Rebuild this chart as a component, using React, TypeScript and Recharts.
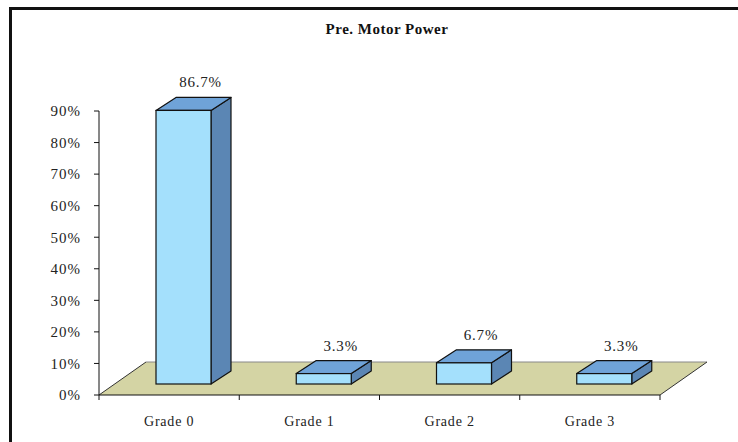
import React from "react";
import { BarChart, Bar, XAxis, YAxis, ReferenceArea, LabelList } from "recharts";

const categories = ["Grade 0", "Grade 1", "Grade 2", "Grade 3"];
const values = [86.7, 3.3, 6.7, 3.3];
const valueLabels = ["86.7%", "3.3%", "6.7%", "3.3%"];
const yTicks = [0, 10, 20, 30, 40, 50, 60, 70, 80, 90];
const title = "Pre. Motor Power";

const data = categories.map((c, i) => ({ name: c, value: values[i], label: valueLabels[i] }));

const W = 738;
const H = 442;
const MARGIN = { top: 111, right: 78, bottom: 17, left: 39 };
const YAXIS_W = 60;
const XAXIS_H = 30;
const BAND = (W - MARGIN.left - MARGIN.right - YAXIS_W) / categories.length;

// 3D offsets
const SHIFT_X = 14;
const SHIFT_Y = -11;
const DEPTH_X = 20;
const DEPTH_Y = -13;
const FLOOR_DX = 47;
const FLOOR_DY = -33;

const FONT = "'Liberation Serif', 'Times New Roman', serif";

const Bar3D = (props: any) => {
  const { x, y, width, height } = props;
  if (width == null || height == null) return null;
  const fx = x + SHIFT_X;
  const fy = y + SHIFT_Y;
  const top = `${fx},${fy} ${fx + DEPTH_X},${fy + DEPTH_Y} ${fx + width + DEPTH_X},${fy + DEPTH_Y} ${fx + width},${fy}`;
  const side = `${fx + width},${fy} ${fx + width + DEPTH_X},${fy + DEPTH_Y} ${fx + width + DEPTH_X},${fy + height + DEPTH_Y} ${fx + width},${fy + height}`;
  return (
    <g>
      <polygon points={side} fill="#5b86b4" stroke="#111" strokeWidth={1.2} strokeLinejoin="round" />
      <polygon points={top} fill="#6fa3d8" stroke="#111" strokeWidth={1.2} strokeLinejoin="round" />
      <rect x={fx} y={fy} width={width} height={height} fill="#a4e0fc" stroke="#111" strokeWidth={1.2} />
    </g>
  );
};

const Floor = (props: any) => {
  const { x, y, width, height } = props;
  const by = y + height;
  const pts = `${x},${by} ${x + width},${by} ${x + width + FLOOR_DX},${by + FLOOR_DY} ${x + FLOOR_DX},${by + FLOOR_DY}`;
  return (
    <g>
      <polygon points={pts} fill="#d4d4a4" stroke="none" />
      <line x1={x + FLOOR_DX} y1={by + FLOOR_DY} x2={x + width + FLOOR_DX} y2={by + FLOOR_DY} stroke="#888" strokeWidth={1} />
      <line x1={x} y1={by} x2={x + FLOOR_DX} y2={by + FLOOR_DY} stroke="#333" strokeWidth={1} />
      <line x1={x + width} y1={by} x2={x + width + FLOOR_DX} y2={by + FLOOR_DY} stroke="#333" strokeWidth={1} />
    </g>
  );
};

const XTick = (props: any) => {
  const { x, y, payload, index } = props;
  const half = BAND / 2;
  const axisY = y - 22;
  return (
    <g>
      <line x1={x - half} y1={axisY} x2={x - half} y2={axisY + 5} stroke="#111" strokeWidth={1} />
      {index === categories.length - 1 && (
        <line x1={x + half} y1={axisY} x2={x + half} y2={axisY + 5} stroke="#111" strokeWidth={1} />
      )}
      <text x={x} y={axisY + 31} textAnchor="middle" fontFamily={FONT} fontSize={14} letterSpacing={0.8} fill="#222">
        {payload.value}
      </text>
    </g>
  );
};

const ValueLabel = (props: any) => {
  const { x, y, width, value } = props;
  return (
    <text
      x={x + width / 2 + SHIFT_X + 17}
      y={y + SHIFT_Y - 23}
      textAnchor="middle"
      fontFamily={FONT}
      fontSize={15}
      letterSpacing={0.8}
      fill="#222"
    >
      {value}
    </text>
  );
};

export default function App() {
  return (
    <div style={{ position: "absolute", left: 0, top: 0, width: W, height: H, background: "#fff", overflow: "hidden" }}>
      <style>{`html,body{margin:0;padding:0;overflow:hidden;}`}</style>
      <div style={{ position: "absolute", left: 9, top: 7, width: W, height: 3, background: "#111" }} />
      <div style={{ position: "absolute", left: 9, top: 7, width: 3, height: H, background: "#111" }} />
      <div
        style={{
          position: "absolute",
          left: 0,
          width: 774,
          top: 20,
          textAlign: "center",
          fontFamily: FONT,
          fontWeight: "bold",
          fontSize: 15,
          letterSpacing: 0.5,
          color: "#111",
          lineHeight: "18px",
        }}
      >
        {title}
      </div>
      <div style={{ position: "absolute", left: 0, top: 0 }}>
        <BarChart width={W} height={H} data={data} margin={MARGIN} barSize={55} style={{ overflow: "visible" }}>
          <ReferenceArea y1={0} y2={90} shape={<Floor />} ifOverflow="visible" />
          <XAxis
            dataKey="name"
            height={XAXIS_H}
            axisLine={{ stroke: "#111", strokeWidth: 1 }}
            tickLine={false}
            tickSize={5}
            tickMargin={17}
            tick={<XTick />}
            interval={0}
          />
          <YAxis
            width={YAXIS_W}
            domain={[0, 90]}
            ticks={yTicks}
            tickFormatter={(v: number) => `${v}%`}
            axisLine={{ stroke: "#111", strokeWidth: 1 }}
            tickLine={{ stroke: "#111", strokeWidth: 1 }}
            tickSize={5}
            tickMargin={13}
            tick={{ fontFamily: FONT, fontSize: 15, fill: "#222", letterSpacing: 1 }}
          />
          <Bar dataKey="value" shape={<Bar3D />} isAnimationActive={false}>
            <LabelList dataKey="label" content={<ValueLabel />} />
          </Bar>
        </BarChart>
      </div>
    </div>
  );
}
